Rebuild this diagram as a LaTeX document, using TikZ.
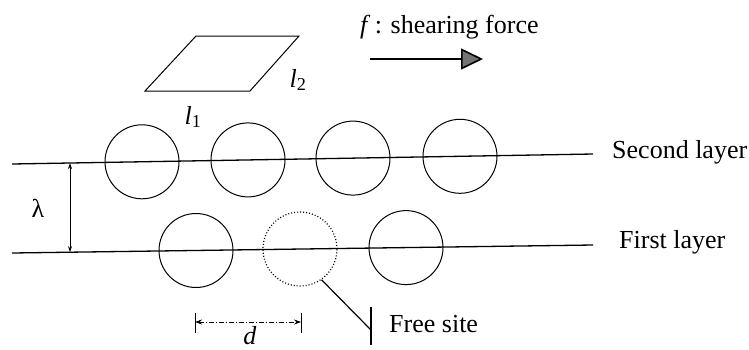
\documentclass[tikz,border=0pt]{standalone}
\usepackage{fontspec}
\setmainfont{Liberation Serif}
\usetikzlibrary{arrows.meta}
\begin{document}
\begin{tikzpicture}[x=1pt,y=-1pt,
  lbl/.style={font=\fontsize{26}{30}\selectfont, inner sep=0pt},
  layerline/.style={line width=1.3pt},
  atom/.style={circle, draw, line width=1pt, minimum size=74pt, inner sep=0pt},
  freeatom/.style={atom, dotted, line width=1.2pt},
  dimline/.style={line width=0.8pt}]
\useasboundingbox (0,0) rectangle (749,349);

% layer lines
\coordinate (s1) at (12,164); \coordinate (s2) at (593,154);
\coordinate (f1) at (12,253); \coordinate (f2) at (593,245);
\draw[layerline] (s1) -- (s2);
\draw[layerline] (f1) -- (f2);
\node[lbl, anchor=base west] (sl) at (612,158) {Second layer};
\node[lbl, anchor=base west] (fl) at (619,248) {First layer};

% atoms
\node[atom] (u1) at (142,161.8) {};
\node[atom] (u2) at (248,159.9) {};
\node[atom] (u3) at (353,158.1) {};
\node[atom] (u4) at (460,156.3) {};
\node[atom] (b1) at (196,250.5) {};
\node[freeatom] (fr) at (300,249) {};
\node[atom] (b3) at (406,247.6) {};

% lambda spacing
\coordinate (la) at (70,163);
\coordinate (lb) at (70,252.2);
\draw[dimline, {Stealth[length=6pt,width=4pt]}-{Stealth[length=6pt,width=4pt]}] (la) -- (lb);
\node[lbl] (lam) at (38,208) {λ};

% parallelogram
\coordinate (p1) at (145,91); \coordinate (p2) at (250,91);
\coordinate (p3) at (299,36); \coordinate (p4) at (196,36);
\draw[line width=1pt] (p1) -- (p2) -- (p3) -- (p4) -- cycle;
\node[lbl] (l1) at (193,117) {\textit{l}\textsubscript{1}};
\node[lbl] (l2) at (298,80) {\textit{l}\textsubscript{2}};

% shearing force
\coordinate (sa) at (370,59); \coordinate (sb) at (483,59);
\draw[line width=1.6pt, -{Triangle[length=22pt,width=21pt,fill=black!55]}] (sa) -- (sb);
\node[lbl, anchor=base west] (ft) at (360,33) {\textit{f}\,: shearing force};

% free site
\coordinate (fb) at (371,330);
\coordinate (fbt) at (371,307); \coordinate (fbb) at (371,345);
\draw[line width=1.2pt] (fr.-55) -- (fb);
\draw[line width=1.4pt] (fbt) -- (fbb);
\node[lbl, anchor=base west] (fs) at (389,332) {Free site};

% d dimension
\coordinate (dt1) at (195,313); \coordinate (db1) at (195,333);
\coordinate (dt2) at (301,313); \coordinate (db2) at (301,333);
\draw[dimline] (dt1) -- (db1);
\draw[dimline] (dt2) -- (db2);
\coordinate (dl) at (195,322); \coordinate (dr) at (301,322);
\draw[dimline, dash pattern=on 5pt off 2pt on 1pt off 2pt, {Stealth[length=7pt,width=5pt]}-{Stealth[length=7pt,width=5pt]}] (dl) -- (dr);
\node[lbl, anchor=base] (dd) at (250,344) {\textit{d}};
\end{tikzpicture}
\end{document}
